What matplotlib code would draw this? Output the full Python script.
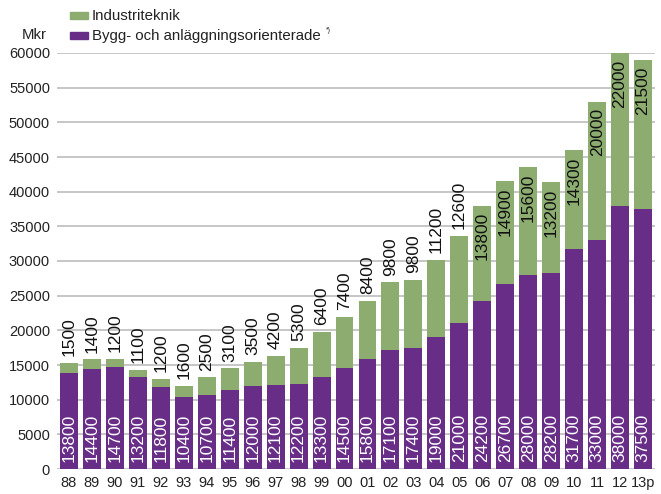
import matplotlib.pyplot as plt
from matplotlib.patches import Rectangle

plt.rcParams['font.family'] = ['Liberation Sans', 'DejaVu Sans']

# data (Mkr)
years = ['88', '89', '90', '91', '92', '93', '94', '95', '96', '97', '98', '99',
         '00', '01', '02', '03', '04', '05', '06', '07', '08', '09', '10', '11', '12', '13p']
bygg = [13800, 14400, 14700, 13200, 11800, 10400, 10700, 11400, 12000, 12100, 12200, 13300,
        14500, 15800, 17100, 17400, 19000, 21000, 24200, 26700, 28000, 28200, 31700, 33000, 38000, 37500]
industri = [1500, 1400, 1200, 1100, 1200, 1600, 2500, 3100, 3500, 4200, 5300, 6400,
            7400, 8400, 9800, 9800, 11200, 12600, 13800, 14900, 15600, 13200, 14300, 20000, 22000, 21500]
yticks = list(range(0, 60001, 5000))

green = '#8cad6f'
purple = '#682d87'

fig = plt.figure(figsize=(6.61, 4.94), dpi=100)
ax = fig.add_axes([57/661, 1 - 469/494, 598/661, 416/494])

x = list(range(len(years)))
ax.bar(x, bygg, width=0.78, color=purple, zorder=2)
ax.bar(x, industri, width=0.78, bottom=bygg, color=green, zorder=2)

# värden i staplarna
for i in x:
    ax.text(i, 1000, str(bygg[i]), rotation=90, ha='center', va='bottom',
            color='white', fontsize=12.5, zorder=3)
    top = bygg[i] + industri[i]
    if top < 36000:
        ax.text(i, top + 1000, str(industri[i]), rotation=90, ha='center', va='bottom',
                color='#111111', fontsize=12.5, zorder=3)
    else:
        ax.text(i, top - 950, str(industri[i]), rotation=90, ha='center', va='top',
                color='#111111', fontsize=12.5, zorder=3)

ax.set_xlim(-0.52, 25.52)
ax.set_ylim(0, 60000)
ax.set_yticks(yticks)
ax.set_yticklabels([str(v) for v in yticks])
ax.set_xticks(x)
ax.set_xticklabels(years)
ax.tick_params(axis='both', length=0, labelsize=10.5, colors='#222222')
ax.tick_params(axis='y', pad=5)
ax.tick_params(axis='x', pad=5)
ax.grid(axis='y', color='#c2c2c2', linewidth=1.3, zorder=0)
ax.set_axisbelow(True)
for s in ax.spines.values():
    s.set_visible(False)

# legend + enhet
fig.text(22/661, 1 - 35/494, 'Mkr', fontsize=10.8, va='center', color='#222222')
fig.patches.append(Rectangle((70/661, 1 - 19/494), 18/661, 7/494,
                             transform=fig.transFigure, color=green))
fig.patches.append(Rectangle((70/661, 1 - 39/494), 18/661, 7/494,
                             transform=fig.transFigure, color=purple))
fig.text(92/661, 1 - 16/494, 'Industriteknik', fontsize=10.8, va='center', color='#222222')
fig.text(92/661, 1 - 36/494, 'Bygg- och anläggningsorienterade', fontsize=10.8,
         va='center', color='#222222')
fig.text(326/661, 1 - 31/494, '*)', fontsize=5, va='center', color='#222222')

fig.savefig('out.png', dpi=100)
